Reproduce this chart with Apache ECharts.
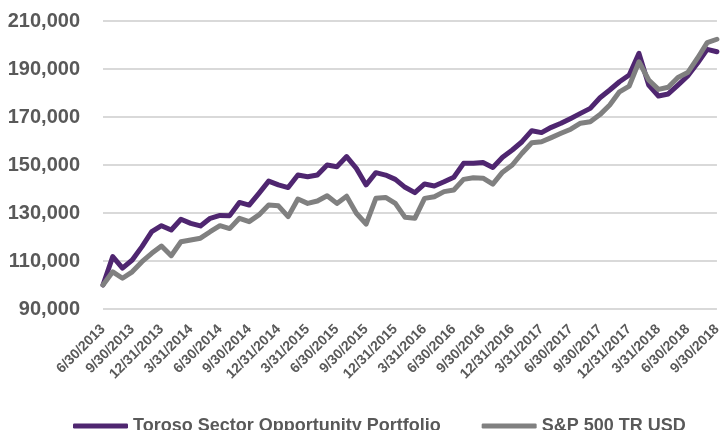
<!DOCTYPE html>
<html>
<head>
<meta charset="utf-8">
<script src="https://cdn.jsdelivr.net/npm/echarts@6/dist/echarts.min.js"></script>
<style>
  html, body { margin: 0; padding: 0; background: #fff; }
  #chart { width: 724px; height: 430px; }
</style>
</head>
<body>
<div id="chart"></div>
<script>
// month-end dates, 6/30/2013 .. 9/30/2018
const categories = [
  '6/30/2013', '7/31/2013', '8/31/2013', '9/30/2013', '10/31/2013', '11/30/2013', '12/31/2013',
  '1/31/2014', '2/28/2014', '3/31/2014', '4/30/2014', '5/31/2014', '6/30/2014',
  '7/31/2014', '8/31/2014', '9/30/2014', '10/31/2014', '11/30/2014', '12/31/2014',
  '1/31/2015', '2/28/2015', '3/31/2015', '4/30/2015', '5/31/2015', '6/30/2015',
  '7/31/2015', '8/31/2015', '9/30/2015', '10/31/2015', '11/30/2015', '12/31/2015',
  '1/31/2016', '2/29/2016', '3/31/2016', '4/30/2016', '5/31/2016', '6/30/2016',
  '7/31/2016', '8/31/2016', '9/30/2016', '10/31/2016', '11/30/2016', '12/31/2016',
  '1/31/2017', '2/28/2017', '3/31/2017', '4/30/2017', '5/31/2017', '6/30/2017',
  '7/31/2017', '8/31/2017', '9/30/2017', '10/31/2017', '11/30/2017', '12/31/2017',
  '1/31/2018', '2/28/2018', '3/31/2018', '4/30/2018', '5/31/2018', '6/30/2018',
  '7/31/2018', '8/31/2018', '9/30/2018'
]

const torosoValues = [
  100000, 111800, 107000, 110400, 116000, 122200, 124700,
  122900, 127400, 125700, 124600, 127800, 129000,
  128900, 134400, 133300, 138200, 143300, 141700,
  140600, 145800, 145100, 145800, 150000, 149300,
  153500, 148600, 141700, 146800, 145800, 144000,
  140700, 138500, 142100, 141250, 143000, 144900,
  150700, 150700, 151000, 149000, 153200, 156250,
  159700, 164300, 163500, 165700, 167400, 169400,
  171500, 173600, 178000, 181250, 184700, 187500,
  196500, 183300, 178750, 179600, 183300, 187100,
  192400, 198200, 197200
]

const spValues = [
  100000, 105500, 102800, 105500, 109700, 113200, 116250,
  112200, 118000, 118750, 119500, 122200, 124700,
  123500, 127800, 126400, 129200, 133300, 133000,
  128500, 135800, 134000, 135000, 137200, 134000,
  137000, 129900, 125400, 136100, 136500, 134000,
  128200, 127800, 136100, 136800, 138900, 139600,
  144000, 144700, 144500, 142000, 147000, 150000,
  154900, 159300, 159700, 161400, 163200, 164900,
  167400, 168000, 171000, 175000, 180500, 182900,
  193000, 185400, 181500, 182400, 186500, 188500,
  194500, 201000, 202400
]

const seriesNames = ['Toroso Sector Opportunity Portfolio', 'S&P 500 TR USD']

const chart = echarts.init(document.getElementById('chart'), null, { renderer: 'canvas' })

const textColor = '#595959'

chart.setOption({
  animation: false,
  textStyle: { fontFamily: 'Liberation Sans' },
  grid: { left: 103, right: 4, top: 21, bottom: 121 },
  legend: {
    left: 73,
    top: 417,
    padding: 0,
    icon: 'roundRect',
    itemWidth: 55,
    itemHeight: 5,
    itemGap: 41,
    textStyle: { color: textColor, fontSize: 18, fontWeight: 'bold' },
    data: seriesNames
  },
  xAxis: {
    type: 'category',
    boundaryGap: false,
    data: categories,
    axisLine: { show: false },
    axisTick: { show: false },
    axisLabel: {
      interval: 2,
      rotate: 45,
      margin: 18,
      color: textColor,
      fontSize: 14,
      fontWeight: 'bold'
    }
  },
  yAxis: {
    type: 'value',
    min: 90000,
    max: 210000,
    interval: 20000,
    axisLine: { show: false },
    axisTick: { show: false },
    splitLine: { lineStyle: { color: '#d9d9d9', width: 2 } },
    axisLabel: {
      margin: 23,
      color: textColor,
      fontSize: 20,
      fontWeight: 'bold',
      formatter: v => v.toLocaleString('en-US')
    }
  },
  series: [
    {
      name: seriesNames[0],
      type: 'line',
      data: torosoValues,
      symbol: 'none',
      lineStyle: { color: '#4f2670', width: 5, cap: 'round', join: 'round' },
      itemStyle: { color: '#4f2670' }
    },
    {
      name: seriesNames[1],
      type: 'line',
      data: spValues,
      symbol: 'none',
      lineStyle: { color: '#808080', width: 5, cap: 'round', join: 'round' },
      itemStyle: { color: '#808080' }
    }
  ]
})
</script>
</body>
</html>
